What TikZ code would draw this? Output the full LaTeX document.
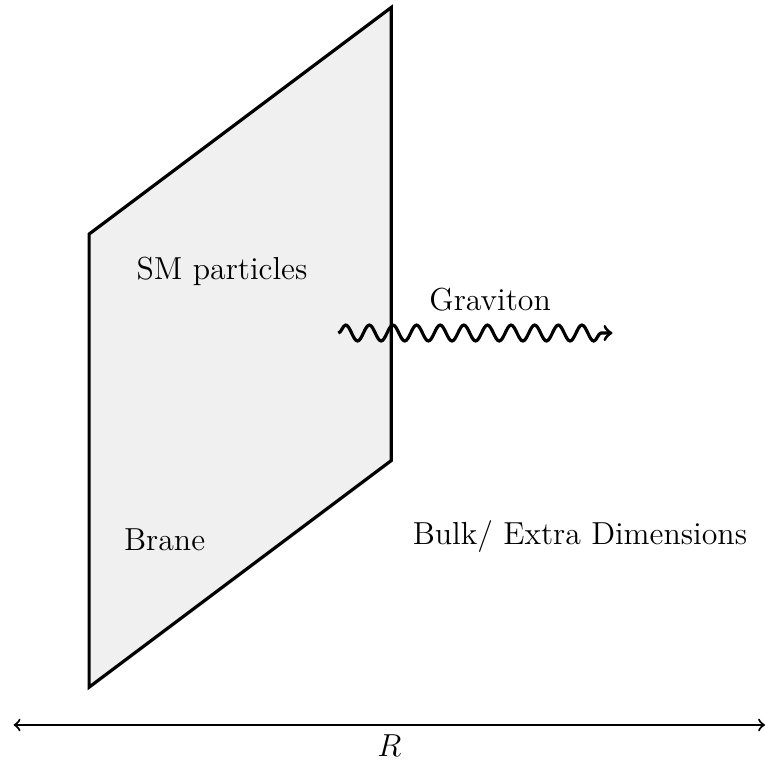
\documentclass[tikz,border=0pt]{standalone}
\usepackage{amsmath,amssymb}
\usepackage{tikz}
\usetikzlibrary{decorations.pathmorphing,positioning}
\tikzset{braneline/.style={very thick, fill=gray!12},
  gravarrow/.style={->, very thick, decorate, decoration={snake, amplitude=3pt, segment length=8.9pt, post length=2pt}},
  dimarrow/.style={<->, thick}}

\begin{document}
\begin{tikzpicture}[every node/.style={font=\large}]
\useasboundingbox (-1.18,-1.01) rectangle (8.95,9.1);
\coordinate (b1) at (0,0);
\coordinate (b2) at (0,6);
\coordinate (b3) at (4,9);
\coordinate (b4) at (4,3);
\draw[braneline] (b1) -- (b2) -- (b3) -- (b4) -- cycle;
\node (sm) at (1.76,5.5) {SM particles};
\node (brane) at (1,1.95) {Brane};
\node (bulk) at (6.5,2) {Bulk/ Extra Dimensions};
\coordinate (gs) at (3.3,4.69);
\coordinate (ge) at (6.93,4.69);
\draw[gravarrow] (gs) -- (ge);
\node (grav) at (5.31,5.13) {Graviton};
\coordinate (rl) at (-1,-0.5);
\coordinate (rr) at (8.95,-0.5);
\draw[dimarrow] (rl) -- (rr) node[midway, below] (r) {$R$};
\end{tikzpicture}
\end{document}
